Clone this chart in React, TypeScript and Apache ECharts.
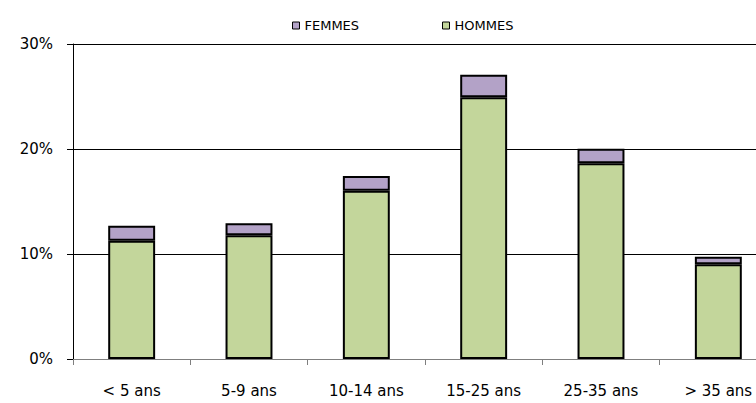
import React, { useEffect, useRef } from "react";
import * as echarts from "echarts";

const categories = ["< 5 ans", "5-9 ans", "10-14 ans", "15-25 ans", "25-35 ans", "> 35 ans"];
const hommes = [11.27, 11.78, 16.03, 24.92, 18.64, 9.02];
const femmes = [1.43, 1.14, 1.4, 2.16, 1.39, 0.72];
const yTicks = { min: 0, max: 30, interval: 10 };

export default function App() {
  const ref = useRef<HTMLDivElement>(null);
  useEffect(() => {
    if (!ref.current) return;
    const chart = echarts.init(ref.current, null, { renderer: "svg" });
    const font = "DejaVu Sans";
    chart.setOption({
      animation: false,
      backgroundColor: "#ffffff",
      textStyle: { fontFamily: font },
      legend: [
        {
          data: ["FEMMES"],
          left: 287,
          top: 14,
          icon: "rect",
          itemWidth: 7,
          itemHeight: 7,
          itemStyle: { borderColor: "#000", borderWidth: 1 },
          textStyle: { fontSize: 13, color: "#000", fontFamily: font },
        },
        {
          data: ["HOMMES"],
          left: 437,
          top: 14,
          icon: "rect",
          itemWidth: 7,
          itemHeight: 7,
          itemStyle: { borderColor: "#000", borderWidth: 1 },
          textStyle: { fontSize: 13, color: "#000", fontFamily: font },
        },
      ],
      grid: { left: 73, top: 44, right: 23, bottom: 44, containLabel: false },
      xAxis: {
        type: "category",
        data: categories,
        axisLine: { show: true, lineStyle: { color: "#7f7f7f", width: 1 } },
        axisTick: { show: true, length: 6, lineStyle: { color: "#7f7f7f" } },
        axisLabel: { fontSize: 15, color: "#000", margin: 24, fontFamily: font, interval: 0 },
      },
      yAxis: {
        type: "value",
        min: yTicks.min,
        max: yTicks.max,
        interval: yTicks.interval,
        axisLine: { show: true, lineStyle: { color: "#000", width: 1 } },
        axisTick: { show: true, length: 6, lineStyle: { color: "#000" } },
        axisLabel: { fontSize: 15, color: "#000", margin: 20, formatter: "{value}%", fontFamily: font },
        splitLine: { show: true, lineStyle: { color: "#000", width: 1 } },
      },
      series: [
        {
          name: "HOMMES",
          type: "bar",
          stack: "total",
          barWidth: "40%",
          data: hommes,
          itemStyle: { color: "#C3D69B", borderColor: "#000", borderWidth: 2 },
        },
        {
          name: "FEMMES",
          type: "bar",
          stack: "total",
          barWidth: "40%",
          data: femmes,
          itemStyle: { color: "#B3A2C7", borderColor: "#000", borderWidth: 2 },
        },
      ],
    });
    return () => chart.dispose();
  }, []);
  return (
    <div style={{ position: "absolute", left: 0, top: 0, width: 756, height: 403, overflow: "hidden" }}>
      <div ref={ref} style={{ width: 800, height: 403 }} />
    </div>
  );
}
